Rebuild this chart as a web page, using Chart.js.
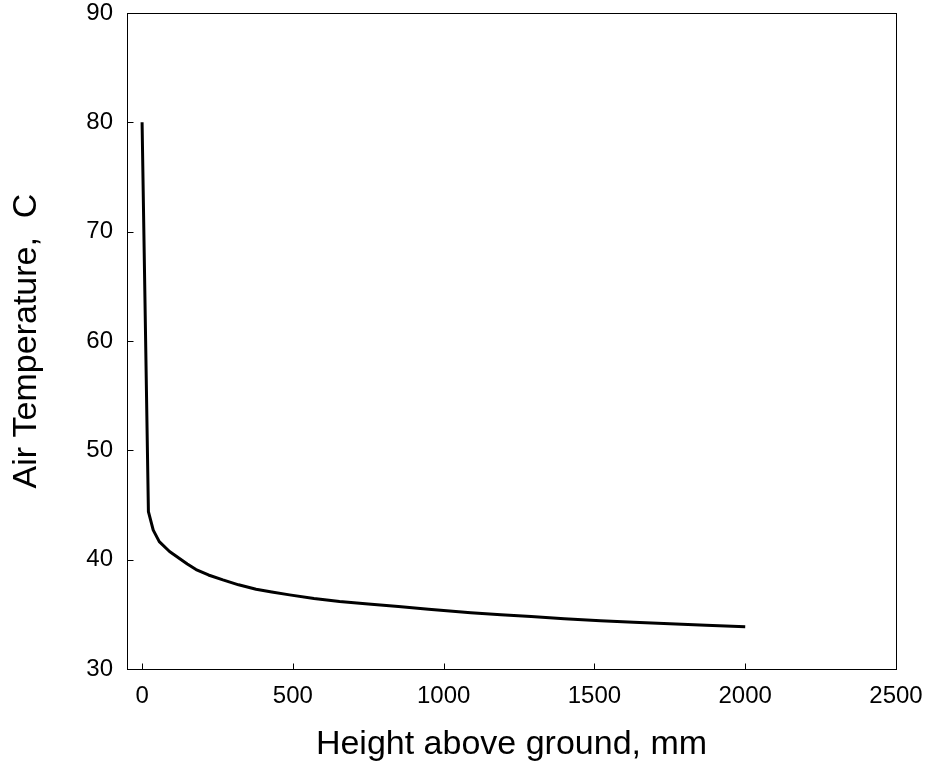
<!DOCTYPE html>
<html>
<head>
<meta charset="utf-8">
<script src="https://cdn.jsdelivr.net/npm/chart.js@4"></script>
<style>
  html, body { margin: 0; padding: 0; background: #fff; }
  #wrap { position: relative; width: 929px; height: 767px; }
</style>
</head>
<body>
<div id="wrap"><canvas id="chart"></canvas></div>
<script>
// values
const heights = [0, 21, 37, 57, 91, 124, 150, 179, 220, 268, 320, 378, 430, 489, 570, 655, 750, 850, 950, 1090, 1190, 1290, 1400, 1520, 1630, 1750, 1870, 2000];
const temps   = [80, 44.4, 42.7, 41.65, 40.75, 40.1, 39.6, 39.1, 38.6, 38.15, 37.7, 37.3, 37.05, 36.78, 36.45, 36.18, 35.95, 35.72, 35.47, 35.15, 34.97, 34.8, 34.6, 34.42, 34.28, 34.15, 34.0, 33.87];
const xTicks = [0, 500, 1000, 1500, 2000, 2500];
const yTicks = [30, 40, 50, 60, 70, 80, 90];

const points = heights.map((h, i) => ({ x: h, y: temps[i] }));

// box around the plot + inward tick marks
const boxAndTicks = {
  id: "boxAndTicks",
  afterDatasetsDraw(chart) {
    const { ctx, chartArea: a, scales } = chart;
    const L = Math.round(a.left) + 0.5, R = Math.round(a.right) + 0.5;
    const T = Math.round(a.top) + 0.5, B = Math.round(a.bottom) + 0.5;
    ctx.save();
    ctx.strokeStyle = "#000";
    ctx.lineWidth = 1;
    ctx.strokeRect(L, T, R - L, B - T);
    ctx.beginPath();
    xTicks.forEach(v => {
      const px = Math.round(scales.x.getPixelForValue(v)) + 0.5;
      ctx.moveTo(px, B); ctx.lineTo(px, B - 6);
    });
    yTicks.forEach(v => {
      const py = Math.round(scales.y.getPixelForValue(v)) + 0.5;
      ctx.moveTo(L, py); ctx.lineTo(L + 6, py);
    });
    ctx.stroke();
    ctx.restore();
  }
};

const tickFont = { family: "Liberation Sans, Arial", size: 24 };
const titleFont = { family: "Liberation Sans, Arial", size: 34 };

new Chart(document.getElementById("chart"), {
  type: "line",
  data: {
    datasets: [{
      data: points,
      borderColor: "#000",
      borderWidth: 3,
      borderJoinStyle: "round",
      pointRadius: 0,
      tension: 0,
      fill: false
    }]
  },
  options: {
    responsive: true,
    maintainAspectRatio: false,
    animation: false,
    layout: { padding: { top: 13, right: 33, left: 0, bottom: 2 } },
    plugins: { legend: { display: false }, tooltip: { enabled: false } },
    scales: {
      x: {
        type: "linear",
        min: -50,
        max: 2500,
        afterBuildTicks: s => { s.ticks = xTicks.map(v => ({ value: v })); },
        afterFit: s => { s.height = 96; s.paddingLeft = 0; s.paddingRight = 0; },
        grid: { display: false, drawTicks: false },
        border: { display: false },
        ticks: { padding: 13, color: "#000", font: tickFont, callback: v => String(v) },
        title: {
          display: true,
          text: "Height above ground, mm",
          color: "#000",
          font: titleFont,
          padding: { top: 2, bottom: 0 }
        }
      },
      y: {
        min: 30,
        max: 90,
        afterBuildTicks: s => { s.ticks = yTicks.map(v => ({ value: v })); },
        afterFit: s => { s.width = 127; s.paddingTop = 0; s.paddingBottom = 0; },
        grid: { display: false, drawTicks: false },
        border: { display: false },
        ticks: { padding: 14, color: "#000", font: tickFont, callback: v => String(v) },
        title: {
          display: true,
          text: "Air Temperature,  C",
          color: "#000",
          font: titleFont,
          padding: { top: 6, bottom: 0 }
        }
      }
    }
  },
  plugins: [boxAndTicks]
});
</script>
</body>
</html>
